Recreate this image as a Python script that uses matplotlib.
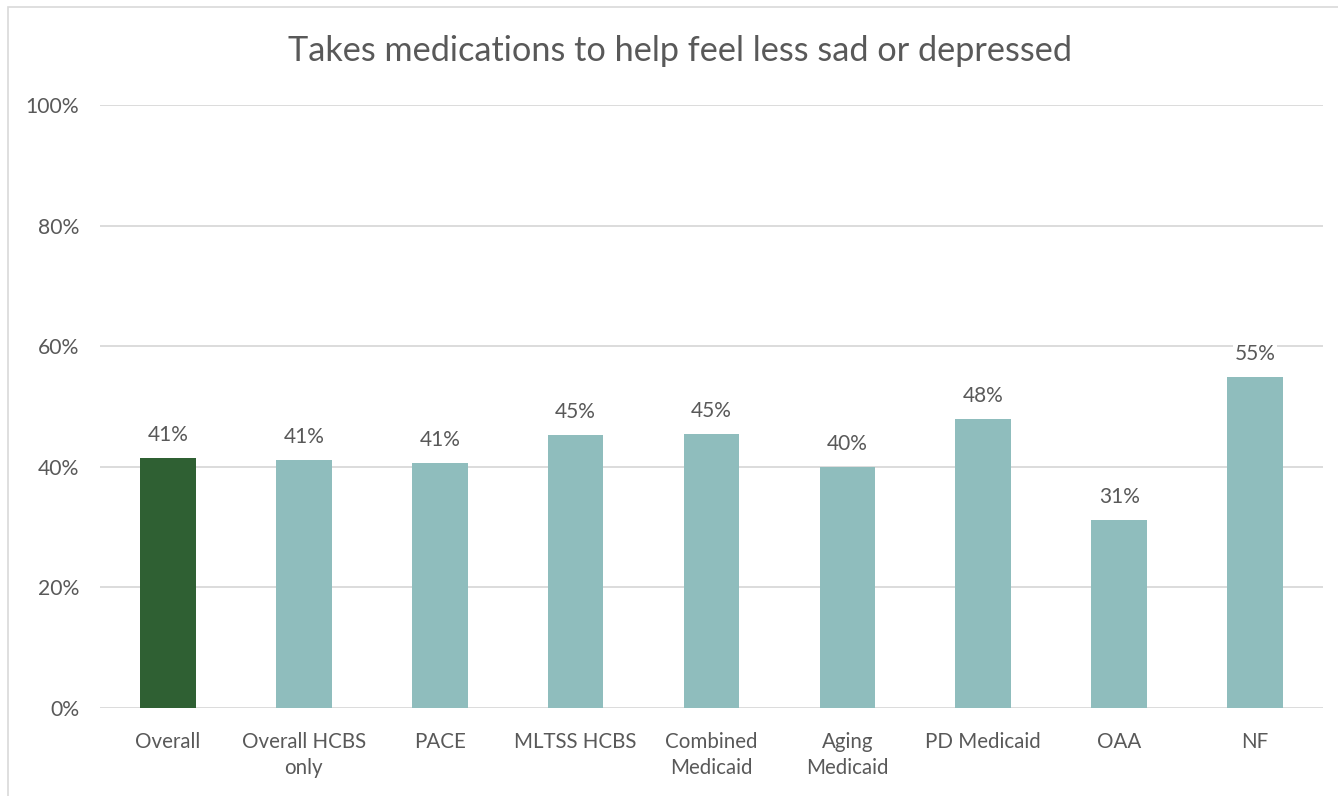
import matplotlib
matplotlib.use("Agg")
import matplotlib.pyplot as plt
from matplotlib.patches import Rectangle
from matplotlib.ticker import PercentFormatter

categories = ["Overall", "Overall HCBS\nonly", "PACE", "MLTSS HCBS", "Combined\nMedicaid",
              "Aging\nMedicaid", "PD Medicaid", "OAA", "NF"]
values = [41.4, 41.1, 40.6, 45.2, 45.4, 39.9, 47.9, 31.1, 54.9]
labels = ["41%", "41%", "41%", "45%", "45%", "40%", "48%", "31%", "55%"]
bar_colors = ["#2F6033"] + ["#8FBDBD"] * 8

plt.rcParams['font.family'] = ['Lato', 'DejaVu Sans']
text_color = "#595959"

fig = plt.figure(figsize=(13.38, 7.96), dpi=100)
ax = fig.add_axes([100/1338, 88/796, 1223/1338, 603/796])

# thin chart border like the office export
fig.patches.append(Rectangle((8/1338, -0.01), 1.02, 1 - 7/796 + 0.01, transform=fig.transFigure,
                             fill=False, edgecolor="#D9D9D9", linewidth=1.2))

x = range(len(categories))
bars = ax.bar(x, values, width=0.41, color=bar_colors, zorder=3)

for b, lab in zip(bars, labels):
    ax.text(b.get_x() + b.get_width() / 2, b.get_height() + 2.2, lab, ha="center", va="bottom",
            fontsize=15, color=text_color, zorder=4,
            bbox=dict(facecolor="white", edgecolor="none", pad=1))

ax.set_ylim(0, 100)
ax.set_xlim(-0.5, len(categories) - 0.5)
ax.set_yticks(range(0, 101, 20))
ax.yaxis.set_major_formatter(PercentFormatter(decimals=0))
ax.grid(axis="y", color="#D9D9D9", linewidth=1.3, zorder=0)
ax.set_xticks(list(x))
ax.set_xticklabels(categories, fontsize=14.8, color=text_color, linespacing=1.38)
for t in ax.get_yticklabels():
    t.set_fontsize(15.2)
    t.set_color(text_color)
ax.tick_params(axis="both", length=0)
ax.tick_params(axis="x", pad=17)
ax.tick_params(axis="y", pad=15)
for s in ax.spines.values():
    s.set_visible(False)

fig.text(680/1338, 1 - 51/796, "Takes medications to help feel less sad or depressed",
         ha="center", va="center", fontsize=24.7, color=text_color)

fig.savefig("out.png", dpi=100)
